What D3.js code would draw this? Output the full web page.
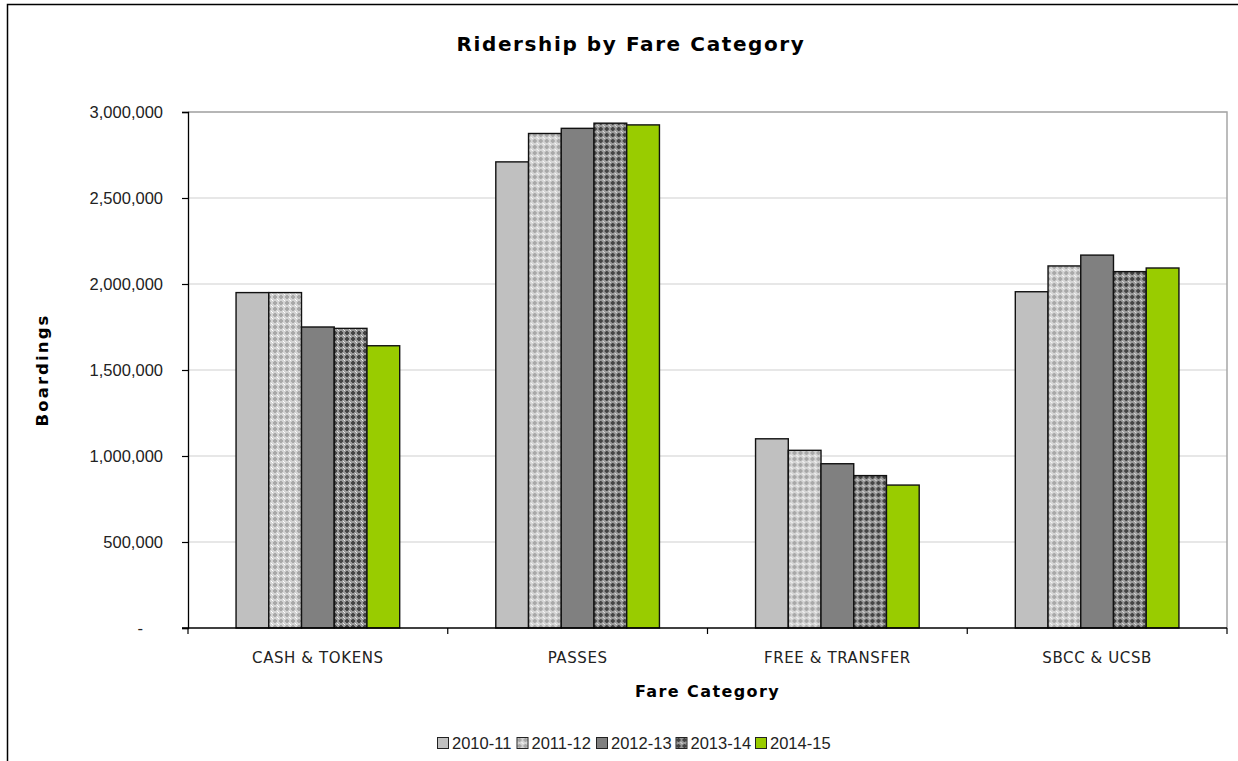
<!DOCTYPE html>
<html>
<head>
<meta charset="utf-8">
<script src="https://cdn.jsdelivr.net/npm/d3@7"></script>
<style>
  html, body { margin: 0; padding: 0; background: #fff; }
  svg { display: block; }
</style>
</head>
<body>
<svg id="chart" width="1238" height="761"></svg>
<script>
// ---- data ----
const categories = ["CASH & TOKENS", "PASSES", "FREE & TRANSFER", "SBCC & UCSB"];
const seriesNames = ["2010-11", "2011-12", "2012-13", "2013-14", "2014-15"];
const values2010_11 = [1950000, 2710000, 1100000, 1955000];
const values2011_12 = [1950000, 2875000, 1033000, 2105000];
const values2012_13 = [1750000, 2905000, 955000, 2168000];
const values2013_14 = [1742000, 2935000, 886000, 2072000];
const values2014_15 = [1641000, 2925000, 831000, 2093000];
const yTickValues = [0, 500000, 1000000, 1500000, 2000000, 2500000, 3000000];
const chartTitle = "Ridership by Fare Category";
const xTitle = "Fare Category";
const yTitle = "Boardings";

const seriesValues = [values2010_11, values2011_12, values2012_13, values2013_14, values2014_15];

// ---- layout ----
const W = 1238, H = 761;
const plot = { left: 188, right: 1227, top: 112, bottom: 628 };
const svg = d3.select("#chart");

// patterns
const defs = svg.append("defs");
function makePattern(id, base, cross, dot) {
  const p = defs.append("pattern").attr("id", id).attr("patternUnits", "userSpaceOnUse")
    .attr("width", 6).attr("height", 6);
  p.append("rect").attr("width", 6).attr("height", 6).attr("fill", base);
  p.append("rect").attr("x", 2).attr("y", 1).attr("width", 2).attr("height", 4).attr("fill", cross);
  p.append("rect").attr("x", 1).attr("y", 2).attr("width", 4).attr("height", 2).attr("fill", cross);
  p.append("rect").attr("x", 0).attr("y", 0).attr("width", 1).attr("height", 1).attr("fill", dot);
  p.append("rect").attr("x", 5).attr("y", 5).attr("width", 1).attr("height", 1).attr("fill", dot);
}
makePattern("pat1", "#d4d4d4", "#a8a8a8", "#ffffff");
makePattern("pat3", "#999999", "#444444", "#e8e8e8");

const fills = ["#c0c0c0", "url(#pat1)", "#808080", "url(#pat3)", "#99cc00"];

// outer frame
svg.append("rect").attr("x", 7.5).attr("y", 4.5).attr("width", W + 10).attr("height", H + 10)
  .attr("fill", "none").attr("stroke", "#000").attr("stroke-width", 1.5);

// scales
const x0 = d3.scaleBand().domain(categories).range([plot.left, plot.right]).paddingInner(0).paddingOuter(0);
const bw = x0.bandwidth();
const x1 = d3.scaleBand().domain(seriesNames).range([bw * 0.185, bw * 0.815]).padding(0);
const y = d3.scaleLinear().domain([0, 3000000]).range([plot.bottom, plot.top]);

// gridlines
svg.append("g").selectAll("line").data(yTickValues.filter(d => d > 0)).join("line")
  .attr("x1", plot.left).attr("x2", plot.right)
  .attr("y1", d => y(d)).attr("y2", d => y(d))
  .attr("stroke", "#cfcfcf").attr("stroke-width", 1.2);

// plot area border (top & right)
svg.append("path")
  .attr("d", `M${plot.left},${plot.top}H${plot.right}V${plot.bottom}`)
  .attr("fill", "none").attr("stroke", "#a6a6a6").attr("stroke-width", 1.5);

// bars
const groups = svg.append("g").selectAll("g").data(categories).join("g")
  .attr("transform", d => `translate(${x0(d)},0)`);
groups.selectAll("rect").data((c, ci) => seriesNames.map((s, si) => ({ s, si, v: seriesValues[si][ci] })))
  .join("rect")
  .attr("x", d => x1(d.s))
  .attr("width", x1.bandwidth())
  .attr("y", d => y(d.v))
  .attr("height", d => y(0) - y(d.v))
  .attr("fill", d => fills[d.si])
  .attr("stroke", "#111").attr("stroke-width", 1.4);

// y axis
const yAxis = d3.axisLeft(y).tickValues(yTickValues).tickSize(6).tickPadding(19)
  .tickFormat(d => d === 0 ? "-" : d3.format(",")(d));
const gy = svg.append("g").attr("transform", `translate(${plot.left},0)`).call(yAxis);
gy.select(".domain").attr("stroke", "#000").attr("stroke-width", 1.3);
gy.selectAll(".tick line").attr("stroke", "#000").attr("stroke-width", 1.2);
gy.selectAll("text").attr("font-family", "'Liberation Sans', Arial, sans-serif")
  .attr("font-size", 16.5).attr("fill", "#222");
gy.selectAll(".tick").filter(d => d === 0).select("text").attr("dx", -20);

// x axis
const gx = svg.append("g").attr("transform", `translate(0,${plot.bottom})`);
gx.append("line").attr("x1", plot.left - 6).attr("x2", plot.right).attr("y1", 0).attr("y2", 0)
  .attr("stroke", "#000").attr("stroke-width", 1.3);
const bounds = categories.map(c => x0(c)).concat([x0(categories[categories.length - 1]) + bw]);
gx.selectAll("line.tk").data(bounds).join("line").attr("class", "tk")
  .attr("x1", d => d).attr("x2", d => d).attr("y1", 0).attr("y2", 6)
  .attr("stroke", "#000").attr("stroke-width", 1.2);
gx.selectAll("text").data(categories).join("text")
  .attr("x", d => x0(d) + bw / 2).attr("y", 35)
  .attr("text-anchor", "middle")
  .attr("font-family", "'DejaVu Sans', sans-serif").attr("font-size", 15)
  .attr("letter-spacing", 0.6)
  .attr("fill", "#222").text(d => d);

// titles
svg.append("text").attr("x", 631).attr("y", 51).attr("text-anchor", "middle")
  .attr("font-family", "'DejaVu Sans', sans-serif").attr("font-weight", "bold")
  .attr("font-size", 20).attr("letter-spacing", 1.6).attr("fill", "#000").text(chartTitle);
svg.append("text").attr("x", (plot.left + plot.right) / 2).attr("y", 697).attr("text-anchor", "middle")
  .attr("font-family", "'DejaVu Sans', sans-serif").attr("font-weight", "bold")
  .attr("font-size", 16).attr("letter-spacing", 1.4).attr("fill", "#000").text(xTitle);
svg.append("text").attr("transform", `translate(48,${(plot.top + plot.bottom) / 2}) rotate(-90)`)
  .attr("text-anchor", "middle")
  .attr("font-family", "'DejaVu Sans', sans-serif").attr("font-weight", "bold")
  .attr("font-size", 16.5).attr("letter-spacing", 2.1).attr("fill", "#000").text(yTitle);

// legend
const legend = svg.append("g").attr("transform", "translate(437,743)");
const li = legend.selectAll("g").data(seriesNames).join("g")
  .attr("transform", (d, i) => `translate(${i * 79.5},0)`);
li.append("rect").attr("x", 0.5).attr("y", -5.5).attr("width", 11).attr("height", 11)
  .attr("fill", (d, i) => fills[i]).attr("stroke", "#222").attr("stroke-width", 1);
li.append("text").attr("x", 15).attr("y", 6)
  .attr("font-family", "'Liberation Sans', Arial, sans-serif").attr("font-size", 16.5)
  .attr("fill", "#222").text(d => d);
</script>
</body>
</html>
